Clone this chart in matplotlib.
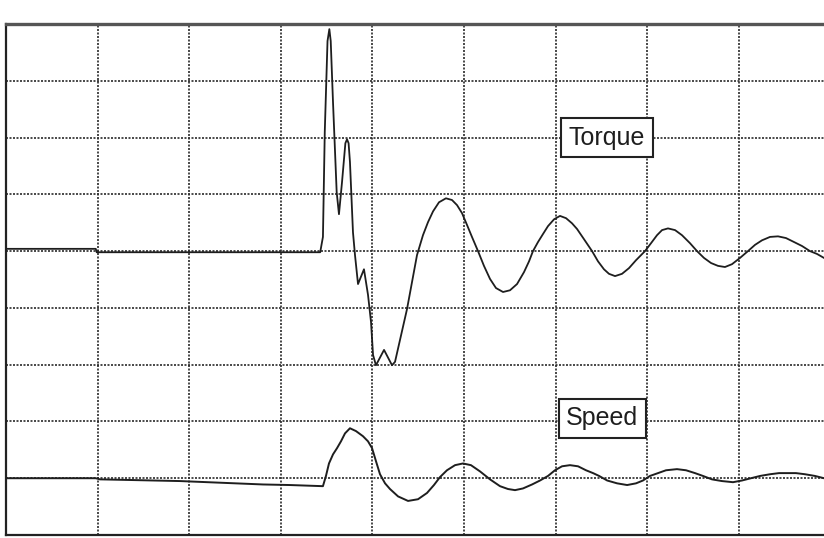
import matplotlib
matplotlib.use("Agg")
import matplotlib.pyplot as plt

# time axis: 100 units per grid division (9 divisions)
torque_t = [0, 98, 99, 343, 346, 348, 351, 353, 354.5, 357, 361, 363.5, 366.8, 370.5, 372.3, 374, 375.5, 378.8, 381,
            384.3, 390.8, 395.2, 398.5, 400.7, 403.9, 412.7, 421.4, 424.7, 437.8, 448.7,
            455.2, 460.7, 466.2, 472.7, 480.3, 486.9, 492.4, 497.8, 503.3, 508.7, 515.3,
            521.8, 528.4, 534.9, 542.6, 550.2, 557.9, 565.5, 571, 575.3, 580.8, 586.2, 591.7,
            598.3, 604.8, 611.4, 617.9, 623.4, 631, 639.8, 646.3, 652.8, 658.3, 664.9, 672.5,
            680.1, 687.8, 697.6, 704.2, 710.7, 716.2, 722.7, 730.4, 738, 746.7, 754.4, 762,
            769.7, 777.3, 784.9, 792.6, 801.3, 810, 817.7, 825.3, 834.1, 842.8, 851.5, 860.3,
            869, 877.7, 885.4, 893]
# torque in grid divisions relative to its baseline
torque_v = [0.04, 0.04, -0.02, -0.02, 0.25, 2.10, 3.70, 3.91, 3.70, 2.62, 1.04, 0.65, 1.21, 1.90, 1.97, 1.90, 1.57,
            0.33, -0.07, -0.58, -0.32, -0.77, -1.25, -1.83, -2.01, -1.74, -2.01, -1.95, -1.02,
            -0.07, 0.28, 0.51, 0.70, 0.86, 0.93, 0.90, 0.81, 0.67, 0.46, 0.25, 0.0, -0.26,
            -0.49, -0.65, -0.72, -0.69, -0.58, -0.37, -0.18, 0.0, 0.16, 0.30, 0.44, 0.56, 0.62,
            0.58, 0.49, 0.39, 0.21, 0.0, -0.18, -0.32, -0.40, -0.44, -0.40, -0.30, -0.16, 0.0,
            0.14, 0.28, 0.37, 0.40, 0.37, 0.28, 0.14, 0.0, -0.12, -0.21, -0.26, -0.28, -0.23,
            -0.12, 0.0, 0.11, 0.19, 0.25, 0.26, 0.23, 0.16, 0.09, 0.0, -0.05, -0.12]

speed_t = [0, 98, 102.6, 190, 280.6, 310, 346, 349.3, 352.6, 357, 361.4, 365.7, 370.1, 375.5,
           382.1, 389.7, 395.2, 399.6, 403.9, 408.3, 413.8, 419.2, 428, 438.9, 449.8, 459.6,
           467.2, 473.8, 481.4, 490.2, 498.9, 507.6, 517.5, 528.4, 539.3, 548, 555.7, 564.4,
           574.3, 583, 591.7, 599.3, 607, 615.7, 624.5, 633.2, 640.9, 647.5, 656.3, 667.1,
           678.1, 687.8, 695.4, 703, 711.8, 720.5, 732.5, 742.4, 752.2, 760.9, 770.7, 781.6,
           793.7, 803.5, 813.3, 823.2, 834.1, 843.9, 852.6, 862.4, 872.3, 883.2, 893]
speed_v = [0.0, 0.0, -0.02, -0.05, -0.11, -0.12, -0.14, 0.04, 0.26, 0.42, 0.53, 0.65, 0.79,
           0.88, 0.83, 0.74, 0.65, 0.53, 0.30, 0.07, -0.09, -0.19, -0.32, -0.40, -0.37, -0.26,
           -0.12, 0.02, 0.14, 0.23, 0.26, 0.23, 0.12, -0.02, -0.14, -0.19, -0.21, -0.18, -0.11,
           -0.04, 0.04, 0.14, 0.21, 0.23, 0.21, 0.14, 0.09, 0.04, -0.04, -0.09, -0.12, -0.09,
           -0.04, 0.04, 0.09, 0.14, 0.16, 0.14, 0.09, 0.04, -0.02, -0.05, -0.07, -0.04, 0.0,
           0.04, 0.07, 0.09, 0.09, 0.09, 0.07, 0.04, 0.0]

torque_base = 5
speed_base = 1
labels = ["Torque", "Speed"]
label_pos = [(656, 7.0), (651, 2.06)]

fig = plt.figure(figsize=(8.24, 5.38), dpi=100)
ax = fig.add_axes([6 / 824, 3 / 538, 824.4 / 824, 511 / 538])

ax.plot(torque_t, [torque_base + v for v in torque_v], color="#1e1e1e", lw=1.3, zorder=3)
ax.plot(speed_t, [speed_base + v for v in speed_v], color="#1e1e1e", lw=1.4, zorder=3)

ax.set_xlim(0, 900)
ax.set_ylim(0, 9)
ax.set_xticks(range(0, 901, 100))
ax.set_yticks(range(0, 10))
ax.grid(True, linestyle=(0, (1.2, 0.9)), color="#2a2a2a", linewidth=1.2)
ax.tick_params(length=0, labelbottom=False, labelleft=False)
for s in ["left", "bottom"]:
    ax.spines[s].set_linewidth(1.6)
    ax.spines[s].set_color("#222222")
ax.spines["top"].set_linewidth(2.4)
ax.spines["top"].set_color("#555555")
ax.spines["right"].set_visible(False)

for lab, (x, y) in zip(labels, label_pos):
    ax.text(x, y, lab, ha="center", va="center", fontsize=18,
            family="Liberation Sans", color="#1e1e1e", zorder=4,
            bbox=dict(boxstyle="square,pad=0.3", fc="white", ec="#222222", lw=1.5))

fig.savefig("out.png", dpi=100)
